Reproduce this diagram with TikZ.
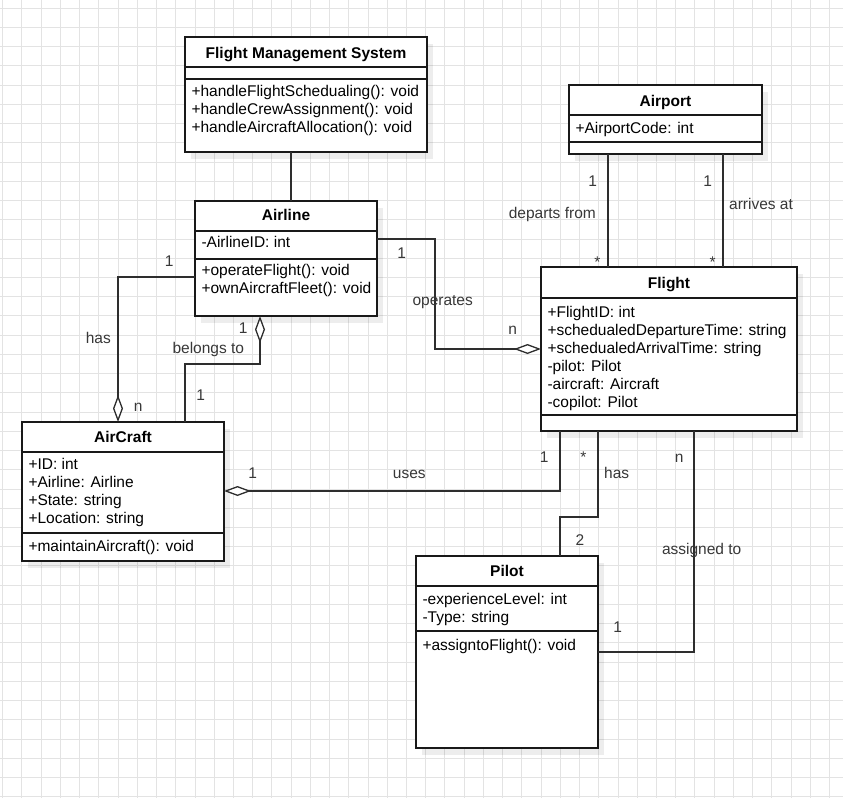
\documentclass[tikz,border=0pt]{standalone}
\usepackage{fontspec}
\setmainfont{Liberation Sans}
\usetikzlibrary{arrows.meta,shadows}
\begin{document}
\begin{tikzpicture}[x=1pt,y=-1pt,
  every node/.style={inner sep=0pt,outer sep=0pt},
  gridline/.style={draw=black!11,line width=1pt},
  classbox/.style={draw=black!90,line width=1.3pt,fill=white,anchor=north west,
    drop shadow={shadow xshift=6pt,shadow yshift=-7pt,fill=black,opacity=0.07}},
  sep/.style={draw=black!90,line width=1.3pt},
  title/.style={font=\fontsize{15.5}{18}\selectfont\bfseries,anchor=base},
  member/.style={font=\fontsize{15.5}{18}\selectfont,anchor=base west},
  lbl/.style={font=\fontsize{15.5}{18}\selectfont,text=black!78,text height=11pt,text depth=0pt,anchor=center},
  conn/.style={draw=black!82,line width=1.3pt},
  agg/.style={Diamond[length=27pt,width=10pt,fill=white]}
]
\useasboundingbox (0,0) rectangle (843,798);
\fill[white] (0,0) rectangle (843,798);
% grid
\foreach \i in {0,...,43} {\draw[gridline] ({2.7+19.23*\i},0) -- ({2.7+19.23*\i},798);}
\foreach \j in {0,...,41} {\draw[gridline] (0,{8.3+19.23*\j}) -- (843,{8.3+19.23*\j});}

% ---------- class boxes ----------
\node[classbox,minimum width=242pt,minimum height=115pt] (fms) at (185,37) {};
\node[classbox,minimum width=193pt,minimum height=69pt] (airport) at (569,85) {};
\node[classbox,minimum width=182pt,minimum height=115pt] (airline) at (195,201) {};
\node[classbox,minimum width=256pt,minimum height=164pt] (flight) at (541,267) {};
\node[classbox,minimum width=202pt,minimum height=139pt] (aircraft) at (22,422) {};
\node[classbox,minimum width=182pt,minimum height=192pt] (pilot) at (416,556) {};

% separators
\draw[sep] (fms.west |- 0,67) -- (fms.east |- 0,67);
\draw[sep] (fms.west |- 0,79) -- (fms.east |- 0,79);
\draw[sep] (airport.west |- 0,115) -- (airport.east |- 0,115);
\draw[sep] (airport.west |- 0,142) -- (airport.east |- 0,142);
\draw[sep] (airline.west |- 0,231) -- (airline.east |- 0,231);
\draw[sep] (airline.west |- 0,259) -- (airline.east |- 0,259);
\draw[sep] (flight.west |- 0,298) -- (flight.east |- 0,298);
\draw[sep] (flight.west |- 0,415) -- (flight.east |- 0,415);
\draw[sep] (aircraft.west |- 0,452) -- (aircraft.east |- 0,452);
\draw[sep] (aircraft.west |- 0,533) -- (aircraft.east |- 0,533);
\draw[sep] (pilot.west |- 0,586) -- (pilot.east |- 0,586);
\draw[sep] (pilot.west |- 0,631) -- (pilot.east |- 0,631);

% ---------- connectors ----------
\draw[conn] (fms.south -| 291,0) -- (airline.north -| 291,0);
\draw[conn] (airport.south -| 608,0) -- (flight.north -| 608,0);
\draw[conn] (airport.south -| 723,0) -- (flight.north -| 723,0);
\draw[conn,-{Diamond[length=27pt,width=10pt,fill=white]}] (airline.west |- 0,277) -| (aircraft.north -| 118,0);
\draw[conn,{Diamond[length=27pt,width=10pt,fill=white]}-] (airline.south -| 260,0) -- (260,364) -| (aircraft.north -| 185,0);
\draw[conn,-{Diamond[length=27pt,width=10pt,fill=white]}] (airline.east |- 0,239) -| (435,349) -- (flight.west |- 0,349);
\draw[conn,-{Diamond[length=27pt,width=10pt,fill=white]}] (flight.south -| 560,0) |- (aircraft.east |- 0,491);
\draw[conn] (flight.south -| 598,0) -- (598,517) -| (pilot.north -| 560,0);
\draw[conn] (flight.south -| 694,0) |- (pilot.east |- 0,652);

% ---------- class texts ----------
\node[title] (fmsT) at (306,58.3) {Flight Management System};
\node[member] (fmsM1) at (191.5,96.7) {+handleFlightSchedualing(): void};
\node[member] (fmsM2) at (191.5,114.7) {+handleCrewAssignment(): void};
\node[member] (fmsM3) at (191.5,132.7) {+handleAircraftAllocation(): void};

\node[title] (airportT) at (665.5,106.7) {Airport};
\node[member] (airportA1) at (575.5,133.3) {+AirportCode: int};

\node[title] (airlineT) at (286,220.7) {Airline};
\node[member] (airlineA1) at (201.5,247.7) {-AirlineID: int};
\node[member] (airlineM1) at (201.5,275.7) {+operateFlight(): void};
\node[member] (airlineM2) at (201.5,293.7) {+ownAircraftFleet(): void};

\node[title] (flightT) at (669,288.3) {Flight};
\node[member] (flightA1) at (547.5,317.3) {+FlightID: int};
\node[member] (flightA2) at (547.5,335.3) {+schedualedDepartureTime: string};
\node[member] (flightA3) at (547.5,353.3) {+schedualedArrivalTime: string};
\node[member] (flightA4) at (547.5,371.3) {-pilot: Pilot};
\node[member] (flightA5) at (547.5,389.3) {-aircraft: Aircraft};
\node[member] (flightA6) at (547.5,407.3) {-copilot: Pilot};

\node[title] (aircraftT) at (123,442.7) {AirCraft};
\node[member] (aircraftA1) at (28.5,469.3) {+ID: int};
\node[member] (aircraftA2) at (28.5,487.3) {+Airline: Airline};
\node[member] (aircraftA3) at (28.5,505.3) {+State: string};
\node[member] (aircraftA4) at (28.5,523.3) {+Location: string};
\node[member] (aircraftM1) at (28.5,551.7) {+maintainAircraft(): void};

\node[title] (pilotT) at (507,576.7) {Pilot};
\node[member] (pilotA1) at (422.5,604.3) {-experienceLevel: int};
\node[member] (pilotA2) at (422.5,622.3) {-Type: string};
\node[member] (pilotM1) at (422.5,650) {+assigntoFlight(): void};

% ---------- connector labels ----------
\node[lbl] (l1) at (169.3,260.7) {1};
\node[lbl] (l2) at (98.3,338.3) {has};
\node[lbl] (l3) at (138.3,405.7) {n};
\node[lbl] (l4) at (243.3,328.3) {1};
\node[lbl] (l5) at (208.3,348.3) {belongs to};
\node[lbl] (l6) at (200.7,395) {1};
\node[lbl] (l7) at (401.7,252.7) {1};
\node[lbl] (l8) at (442.7,300) {operates};
\node[lbl] (l9) at (512.7,329.3) {n};
\node[lbl] (l10) at (592.7,180.7) {1};
\node[lbl] (l11) at (552.3,212.7) {departs from};
\node[lbl] (l12) at (597.3,261.7) {*};
\node[lbl] (l13) at (707.7,180.7) {1};
\node[lbl] (l14) at (761,204) {arrives at};
\node[lbl] (l15) at (712.7,261.7) {*};
\node[lbl] (l16) at (252.7,473.3) {1};
\node[lbl] (l17) at (409.3,473.3) {uses};
\node[lbl] (l18) at (544.3,456.7) {1};
\node[lbl] (l19) at (583.3,457.3) {*};
\node[lbl] (l20) at (616.7,473.3) {has};
\node[lbl] (l21) at (580,540) {2};
\node[lbl] (l22) at (679.3,456.7) {n};
\node[lbl] (l23) at (701.7,549.3) {assigned to};
\node[lbl] (l24) at (617.7,626.7) {1};
\end{tikzpicture}
\end{document}
